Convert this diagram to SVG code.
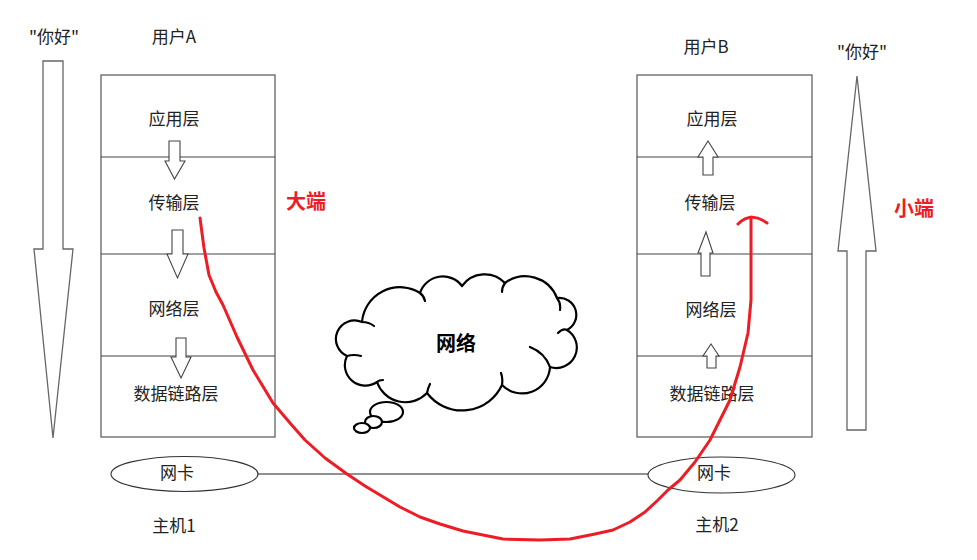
<svg xmlns="http://www.w3.org/2000/svg" width="977" height="560" viewBox="0 0 977 560">
<style>
text{font-family:"Noto Sans CJK SC","Liberation Sans",sans-serif;font-size:17px;fill:#222;text-anchor:middle;dominant-baseline:central}
.red{fill:#ee1c25;font-weight:bold;font-size:20px}
.bold{font-weight:bold;font-size:20px;fill:#000}
.box{fill:#fff;stroke:#555;stroke-width:1.2}
.div{stroke:#444;stroke-width:1.2}
.arr{fill:#fff;stroke:#444;stroke-width:1.1;stroke-linejoin:miter}
.big{fill:#fff;stroke:#666;stroke-width:1.3}
.cl{fill:#fff;stroke:#000;stroke-width:2.2;stroke-linejoin:round}
.in{fill:none;stroke:#000;stroke-width:2.2;stroke-linecap:round}
.nic{fill:#fff;stroke:#333;stroke-width:1.1}
</style>
<rect width="977" height="560" fill="#fff"/>

<g id="arrow-left-big">
<polygon class="big" points="43,61 63,61 63,249 73,249 53,438 34,249 43,249"/>
<text x="54" y="35">"你好"</text>
</g>
<g id="arrow-right-big">
<polygon class="big" points="857,76 876,251 866,251 866,430 847,430 847,251 838,251"/>
<text x="862" y="50">"你好"</text>
</g>

<g id="hostA">
<rect class="box" x="101" y="75" width="174" height="362"/>
<line class="div" x1="101" y1="157" x2="275" y2="157"/>
<line class="div" x1="101" y1="254" x2="275" y2="254"/>
<line class="div" x1="101" y1="356" x2="275" y2="356"/>
<text x="174" y="35">用户A</text>
<text x="174" y="117">应用层</text>
<text x="174" y="201">传输层</text>
<text x="174" y="307">网络层</text>
<text x="176" y="392">数据链路层</text>
<polygon class="arr" points="169,141 180,141 180,161 185,161 174.5,179 165,161 169,161"/>
<polygon class="arr" points="172,230 183,230 183,254 188,254 177.5,278 167,254 172,254"/>
<polygon class="arr" points="176,338 186,338 186,357 191,357 181,378 171,357 176,357"/>
</g>

<g id="hostB">
<rect class="box" x="637" y="75" width="175" height="362"/>
<line class="div" x1="637" y1="157" x2="812" y2="157"/>
<line class="div" x1="637" y1="254" x2="812" y2="254"/>
<line class="div" x1="637" y1="356" x2="812" y2="356"/>
<text x="706" y="45">用户B</text>
<text x="712" y="117">应用层</text>
<text x="710" y="201">传输层</text>
<text x="711" y="308">网络层</text>
<text x="712" y="392">数据链路层</text>
<polygon class="arr" points="708,141 718,157 713,157 713,175 703,175 703,157 698,157"/>
<polygon class="arr" points="706,232 713,253 710,253 710,276 701,276 701,253 698,253"/>
<polygon class="arr" points="711,344 719,356 716,356 716,368 707,368 707,356 703,356"/>
</g>

<g id="label-big-endian"><text class="red" x="306" y="200">大端</text></g>
<g id="label-little-endian"><text class="red" x="914" y="207">小端</text></g>

<g id="cloud">
<path class="cl" d="M347,356 A18,18 0 0 1 362,322 A38,38 0 0 1 420,293 A24,24 0 0 1 462,286 A28,28 0 0 1 505,283 A34,34 0 0 1 557,298 A17,17 0 0 1 567,330 A20.5,20.5 0 0 1 550,367 A28,28 0 0 1 502,385 A44,44 0 0 1 427,393 A30,30 0 0 1 377,382 A20.5,20.5 0 0 1 347,356 Z"/>
<path class="in" d="M362,322 q7,0 12,4 M420,293 q4,3 5,8 M505,283 q-3,4 -3,9 M557,298 q4,5 3,12 M567,330 q-4,-2 -9,3 M530,347 q15,6 20,20 M502,385 q1,-7 -1,-12 M427,393 q1,-5 3,-9 M377,382 q2,-2 6,-2 M347,356 q7,-2 14,0"/>
<ellipse class="cl" cx="386.5" cy="412" rx="16.5" ry="10"/>
<ellipse class="cl" cx="373.5" cy="422" rx="8.5" ry="6"/>
<ellipse class="cl" cx="362" cy="428" rx="8" ry="5"/>
<text class="bold" x="456" y="342">网络</text>
</g>

<g id="nicA">
<ellipse class="nic" cx="184.5" cy="474" rx="73.5" ry="17.5"/>
<text x="177" y="471">网卡</text>
<text x="174" y="524">主机1</text>
</g>
<g id="nicB">
<ellipse class="nic" cx="721.5" cy="475" rx="73.5" ry="18"/>
<text x="714" y="471">网卡</text>
<text x="717" y="523">主机2</text>
</g>

<g id="connectors">
<line x1="258" y1="474" x2="648" y2="474" stroke="#222" stroke-width="1.1"/>
<polyline fill="none" stroke="#ee1c25" stroke-width="3" stroke-linejoin="round" stroke-linecap="round" points="200,218 204,248 209,275 216,292 223,305 237,337 253,370 273,403 290,423 305,440 325,458 347,474 365,486 380,495 400,507 420,517 440,524 463,531 503,539 540,540 570,539 595,534 613,530 630,522 645,512 658,500 668,490 680,480 695,462 710,440 720,420 730,400 740,367 748,333 751,300 751,260 751,217"/>
<path d="M738,224 Q751,211 767,223" fill="none" stroke="#ee1c25" stroke-width="3" stroke-linecap="round"/>
</g>
</svg>
